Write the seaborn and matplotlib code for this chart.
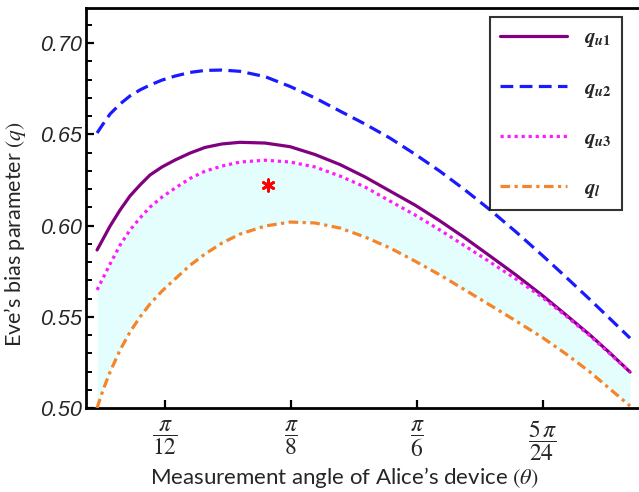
import numpy as np
import pandas as pd
import matplotlib
matplotlib.use("Agg")
import matplotlib.pyplot as plt
import seaborn as sns
from matplotlib.ticker import MultipleLocator

# ---- data (theta in radians) ----
theta = [0.1912, 0.1974, 0.2047, 0.2151, 0.2254, 0.2358, 0.2462, 0.2587,
         0.2722, 0.2878, 0.3034, 0.3210, 0.3397, 0.3657, 0.3917, 0.4176,
         0.4436, 0.4696, 0.4955, 0.5215, 0.5475, 0.5734, 0.5994, 0.6264,
         0.6545, 0.6784, 0.7033, 0.7241, 0.7449]
q_u1 = [0.5866, 0.5926, 0.5997, 0.6085, 0.6162, 0.6222, 0.6277, 0.6321,
        0.6359, 0.6397, 0.6428, 0.6447, 0.6456, 0.6452, 0.6432, 0.6389,
        0.6334, 0.6266, 0.6189, 0.6112, 0.6025, 0.5932, 0.5833, 0.5729,
        0.5614, 0.5510, 0.5400, 0.5301, 0.5197]
q_u2 = [0.6507, 0.6556, 0.6611, 0.6666, 0.6710, 0.6743, 0.6770, 0.6797,
        0.6819, 0.6839, 0.6850, 0.6852, 0.6845, 0.6816, 0.6762, 0.6699,
        0.6627, 0.6556, 0.6479, 0.6391, 0.6297, 0.6195, 0.6086, 0.5965,
        0.5833, 0.5717, 0.5594, 0.5489, 0.5383]
q_u3 = [0.5647, 0.5712, 0.5789, 0.5893, 0.5975, 0.6041, 0.6101, 0.6156,
        0.6205, 0.6258, 0.6298, 0.6326, 0.6348, 0.6358, 0.6348, 0.6321,
        0.6271, 0.6211, 0.6134, 0.6058, 0.5975, 0.5888, 0.5800, 0.5707,
        0.5603, 0.5504, 0.5395, 0.5296, 0.5197]
q_l = [0.5000, 0.5099, 0.5197, 0.5318, 0.5416, 0.5499, 0.5570, 0.5641,
       0.5707, 0.5782, 0.5844, 0.5904, 0.5953, 0.5997, 0.6019, 0.6014,
       0.5986, 0.5937, 0.5877, 0.5805, 0.5729, 0.5647, 0.5564, 0.5477,
       0.5384, 0.5296, 0.5197, 0.5104, 0.5011]
star_theta = [0.3688]
star_q = [0.6222]

xtick_vals = [np.pi / 12, np.pi / 8, np.pi / 6, 5 * np.pi / 24]
xtick_labels = [r'$\dfrac{\pi}{\mathit{12}}$', r'$\dfrac{\pi}{\mathit{8}}$',
                r'$\dfrac{\pi}{\mathit{6}}$', r'$\dfrac{\mathit{5}\,\pi}{\mathit{24}}$']
ytick_vals = [0.50, 0.55, 0.60, 0.65, 0.70]
series_labels = [r'$\mathbfit{q}_{\mathbfit{u}\mathbf{1}}$',
                 r'$\mathbfit{q}_{\mathbfit{u}\mathbf{2}}$',
                 r'$\mathbfit{q}_{\mathbfit{u}\mathbf{3}}$',
                 r'$\mathbfit{q}_{\mathbfit{l}}$']

sns.set_theme(style="ticks")
plt.rcParams['font.family'] = ['Lato', 'DejaVu Sans']
plt.rcParams['mathtext.fontset'] = 'stix'

df = pd.DataFrame({'theta': theta, 'q_u1': q_u1, 'q_u2': q_u2,
                   'q_u3': q_u3, 'q_l': q_l})

fig = plt.figure(figsize=(6.39, 4.92), dpi=100)
ax = fig.add_axes([86 / 639, 1 - 408 / 492, 553 / 639, 400 / 492])

ax.fill_between(df['theta'], df['q_l'], df['q_u3'], color='#E4FDFD', lw=0, zorder=1)

sns.lineplot(data=df, x='theta', y='q_u1', ax=ax, color='#800080', lw=2.3,
             label=series_labels[0], zorder=3)
sns.lineplot(data=df, x='theta', y='q_u2', ax=ax, color='#1a1aff', lw=2.3,
             label=series_labels[1], zorder=3)
ax.lines[-1].set_dashes([4, 2])
sns.lineplot(data=df, x='theta', y='q_u3', ax=ax, color='#ff1aff', lw=2.3,
             label=series_labels[2], zorder=4)
ax.lines[-1].set_dashes([1, 1.2])
sns.lineplot(data=df, x='theta', y='q_l', ax=ax, color='#f5842a', lw=2.3,
             label=series_labels[3], zorder=3)
ax.lines[-1].set_dashes([3, 1.4, 1, 1.4])
for ln in ax.lines:
    ln.set_solid_joinstyle('round')
    ln.set_dash_joinstyle('round')

ax.scatter(star_theta, star_q, marker=(6, 2, 0), s=70, color='red', lw=2, zorder=5)

ax.set_xlim(0.1797, 0.7542)
ax.set_ylim(0.50, 0.7192)
ax.set_xticks(xtick_vals)
ax.set_xticklabels(xtick_labels, fontsize=17)
ax.set_yticks(ytick_vals)
ax.set_yticklabels([f'{v:.2f}' for v in ytick_vals], fontsize=15.5,
                   family='Liberation Sans', style='italic')
ax.yaxis.set_minor_locator(MultipleLocator(0.01))
ax.tick_params(axis='both', which='major', direction='in', length=6, width=1.6,
               color='black')
ax.tick_params(axis='y', which='minor', direction='in', length=4, width=1.4,
               color='black')
ax.tick_params(axis='x', pad=8)
ax.tick_params(axis='y', pad=3)

for s in ['left', 'bottom', 'top']:
    ax.spines[s].set_linewidth(2.0)
    ax.spines[s].set_color('black')
ax.spines['right'].set_visible(False)

ax.set_xlabel(r'Measurement angle of Alice’s device $(\mathit{\theta})$', fontsize=16,
              labelpad=0)
ax.xaxis.set_label_coords(0.468, -0.142)
ax.set_ylabel(r'Eve’s bias parameter $(\mathit{q})$', fontsize=15.5, labelpad=6)
ax.yaxis.set_label_coords(-0.104, 0.435)

leg = ax.legend(loc='upper right', bbox_to_anchor=(0.969, 0.9775), borderaxespad=0,
                fontsize=15, handlelength=3.2, labelspacing=1.35, frameon=True,
                fancybox=False, edgecolor='black', borderpad=0.5, handletextpad=0.8)
leg.get_frame().set_linewidth(1.5)

fig.savefig('out.png', dpi=100)
